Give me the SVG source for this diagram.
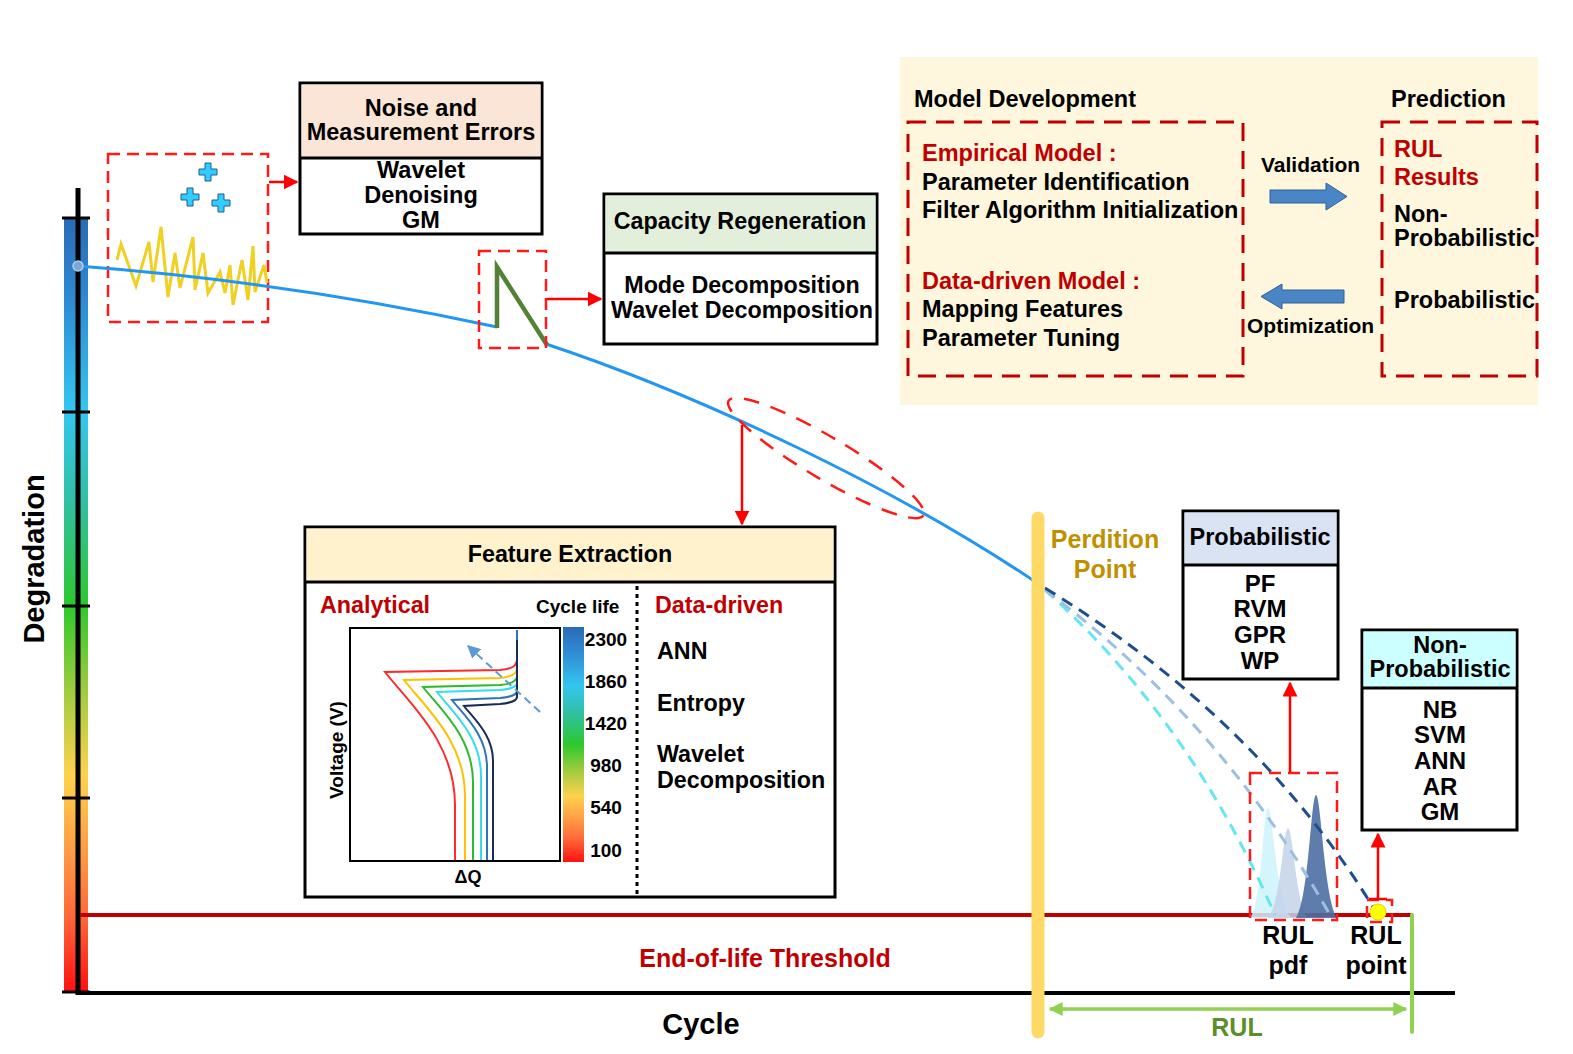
<svg xmlns="http://www.w3.org/2000/svg" width="1573" height="1054" viewBox="0 0 1573 1054">
<style>
.t{font-family:"Liberation Sans",Arial,sans-serif;font-weight:bold;fill:#000}
.c{text-anchor:middle}
.red{fill:#c00000}
.box{fill:#fff;stroke:#000;stroke-width:3}
.hd{stroke:#000;stroke-width:3}
.rd{fill:none;stroke:#ff1a1a;stroke-width:2.5;stroke-dasharray:12 7}
.pd{fill:none;stroke:#c00000;stroke-width:3;stroke-dasharray:18 10}
.arr{stroke:#ff0000;stroke-width:2.5;fill:none;marker-end:url(#ar)}
.pc{fill:none;stroke-width:2}
.dl{fill:none;stroke-width:3;stroke-dasharray:12 8}
</style>
<defs>
<linearGradient id="gbar" x1="0" y1="0" x2="0" y2="1">
<stop offset="0" stop-color="#2a6ab4"/>
<stop offset="0.1" stop-color="#2f88d2"/>
<stop offset="0.25" stop-color="#33c6f0"/>
<stop offset="0.37" stop-color="#30c0a0"/>
<stop offset="0.5" stop-color="#2dc82d"/>
<stop offset="0.62" stop-color="#a8cc40"/>
<stop offset="0.72" stop-color="#ffd24d"/>
<stop offset="0.82" stop-color="#ff9a45"/>
<stop offset="0.9" stop-color="#ff6a3a"/>
<stop offset="1" stop-color="#ff1010"/>
</linearGradient>
<marker id="ar" viewBox="0 0 10 10" refX="9" refY="5" markerWidth="15" markerHeight="15" markerUnits="userSpaceOnUse" orient="auto"><path d="M0,0 L10,5 L0,10 z" fill="#ff0000"/></marker>
<marker id="ag" viewBox="0 0 10 10" refX="9" refY="5" markerWidth="16" markerHeight="14" markerUnits="userSpaceOnUse" orient="auto-start-reverse"><path d="M0,0 L10,5 L0,10 z" fill="#92d050"/></marker>
<marker id="ab" viewBox="0 0 10 10" refX="9" refY="5" markerWidth="13" markerHeight="13" markerUnits="userSpaceOnUse" orient="auto"><path d="M0,0 L10,5 L0,10 z" fill="#5b9bd5"/></marker>
</defs>
<rect width="1573" height="1054" fill="#fff"/>

<g id="axes">
<rect x="64" y="218" width="24" height="774" fill="url(#gbar)"/>
<line x1="78" y1="188" x2="78" y2="995" stroke="#000" stroke-width="5"/>
<g stroke="#000" stroke-width="3">
<line x1="62" y1="218" x2="90" y2="218"/>
<line x1="62" y1="412" x2="90" y2="412"/>
<line x1="62" y1="606" x2="90" y2="606"/>
<line x1="62" y1="798" x2="90" y2="798"/>
<line x1="62" y1="992" x2="90" y2="992"/>
</g>
<line x1="76" y1="993" x2="1455" y2="993" stroke="#000" stroke-width="4"/>
<line x1="80" y1="915" x2="1412" y2="915" stroke="#c00000" stroke-width="4"/>
<text class="t" font-size="29" transform="translate(44,559) rotate(-90)" text-anchor="middle">Degradation</text>
<text class="t c" x="701" y="1034" font-size="29">Cycle</text>
<text class="t c red" x="765" y="967" font-size="25">End-of-life Threshold</text>
</g>

<g id="noise-region">
<rect class="rd" x="108" y="154" width="160" height="168"/>
<polyline points="117,260 121,244 136,286 149,242 153,282 161,227 168,297 175,253 180,288 193,237 195,290 203,253 208,293 220,272 225,293 230,265 233,305 242,260 248,300 253,246 255,292 264,265 267,283" fill="none" stroke="#f0d020" stroke-width="3"/>
<g fill="#33ccff" stroke="#1f5f8a" stroke-width="1">
<path d="M205,163 h6 v6 h6 v6 h-6 v6 h-6 v-6 h-6 v-6 h6 z"/>
<path d="M187,188 h6 v6 h6 v6 h-6 v6 h-6 v-6 h-6 v-6 h6 z"/>
<path d="M218,194 h6 v6 h6 v6 h-6 v6 h-6 v-6 h-6 v-6 h6 z"/>
</g>
</g>

<g id="curve">
<path d="M78,266 Q290,282 497,327" fill="none" stroke="#2196f3" stroke-width="3"/>
<path d="M546,344 C700,395 900,490 1040,585" fill="none" stroke="#2196f3" stroke-width="3"/>
<circle cx="78" cy="266" r="5" fill="#7aa7d6" stroke="#b0cdea" stroke-width="1.5"/>
<polyline points="497,328 497,267 547,345" fill="none" stroke="#548235" stroke-width="4.5" stroke-linejoin="miter"/>
<rect class="rd" x="479" y="251" width="67" height="97"/>
<ellipse cx="826" cy="458" rx="113" ry="21" transform="rotate(30.5 826 458)" fill="none" stroke="#ff1a1a" stroke-width="2.5" stroke-dasharray="16 12"/>
</g>

<g id="pdfs">
<path d="M1250,918 C1262,905 1263,808 1268,808 C1273,808 1276,905 1292,918 Z" fill="#cdf3fa" opacity="0.85"/>
<path d="M1268,918 C1281,905 1283,828 1288,828 C1293,828 1296,905 1308,918 Z" fill="#c3d4e9" opacity="0.85"/>
<path d="M1296,918 C1309,898 1311,795 1316,795 C1321,795 1324,898 1337,918 Z" fill="#4d6ea3" opacity="0.9"/>
</g>

<g id="predictions">
<path class="dl" d="M1045,590 Q1190,720 1275,915" stroke="#66e6f2"/>
<path class="dl" d="M1045,590 Q1220,720 1330,915" stroke="#9dbfe3"/>
<path class="dl" d="M1045,588 Q1260,720 1376,912" stroke="#1f4e8c"/>
<rect class="rd" x="1250" y="773" width="87" height="147"/>
<rect class="rd" x="1367" y="900" width="25" height="22" stroke-dasharray="8 5"/>
<circle cx="1378" cy="912" r="8" fill="#ffff00" stroke="#e6d200" stroke-width="1"/>
<text class="t c" x="1288" y="944" font-size="25">RUL</text>
<text class="t c" x="1288" y="974" font-size="25">pdf</text>
<text class="t c" x="1376" y="944" font-size="25">RUL</text>
<text class="t c" x="1376" y="974" font-size="25">point</text>
</g>

<g id="perdition">
<line x1="1038" y1="518" x2="1038" y2="1032" stroke="#ffd966" stroke-width="13" stroke-linecap="round"/>
<text class="t c" x="1105" y="548" font-size="25" style="fill:#bf9000">Perdition</text>
<text class="t c" x="1105" y="578" font-size="25" style="fill:#bf9000">Point</text>
</g>

<g id="rul">
<line x1="1412" y1="915" x2="1412" y2="1032" stroke="#92d050" stroke-width="4" stroke-linecap="round"/>
<line x1="1050" y1="1009" x2="1406" y2="1009" stroke="#92d050" stroke-width="3.5" marker-start="url(#ag)" marker-end="url(#ag)"/>
<text class="t c" x="1237" y="1036" font-size="25" style="fill:#5b8f2a">RUL</text>
</g>

<g id="connectors">
<line class="arr" x1="269" y1="182" x2="297" y2="182"/>
<line class="arr" x1="547" y1="299" x2="601" y2="299"/>
<line class="arr" x1="742" y1="425" x2="742" y2="524"/>
<line class="arr" x1="1290" y1="772" x2="1290" y2="683"/>
<line class="arr" x1="1378" y1="899" x2="1378" y2="834"/>
<line x1="1369" y1="899" x2="1387" y2="899" stroke="#ff0000" stroke-width="2.5"/>
</g>

<g id="noise-box">
<rect x="300" y="83" width="242" height="151" class="box"/>
<rect x="301.5" y="84.5" width="239" height="73" fill="#fbe5d6"/>
<line x1="300" y1="158" x2="542" y2="158" class="hd"/>
<text class="t c" x="421" y="116" font-size="23.5">Noise and</text>
<text class="t c" x="421" y="140" font-size="23.5">Measurement Errors</text>
<text class="t c" x="421" y="178" font-size="23.5">Wavelet</text>
<text class="t c" x="421" y="203" font-size="23.5">Denoising</text>
<text class="t c" x="421" y="228" font-size="23.5">GM</text>
</g>

<g id="capacity-box">
<rect x="604" y="194" width="273" height="150" class="box"/>
<rect x="605.5" y="195.5" width="270" height="57" fill="#e2efda"/>
<line x1="604" y1="253" x2="877" y2="253" class="hd"/>
<text class="t c" x="740" y="229" font-size="23.3">Capacity Regeneration</text>
<text class="t c" x="742" y="293" font-size="23.3">Mode Decomposition</text>
<text class="t c" x="742" y="318" font-size="23.3">Wavelet Decomposition</text>
</g>

<g id="feature-box">
<rect x="305" y="527" width="530" height="370" class="box"/>
<rect x="306.5" y="528.5" width="527" height="53" fill="#fff2cc"/>
<line x1="305" y1="582" x2="835" y2="582" class="hd"/>
<text class="t c" x="570" y="562" font-size="23.3">Feature Extraction</text>
<line x1="637" y1="586" x2="637" y2="895" stroke="#000" stroke-width="3" stroke-dasharray="4 4"/>
<text class="t" x="320" y="613" font-size="23.3" style="fill:#c00000">Analytical</text>
<text class="t" x="536" y="613" font-size="19">Cycle life</text>
<text class="t" x="655" y="613" font-size="23.3" style="fill:#c00000">Data-driven</text>
<text class="t" x="657" y="659" font-size="23.3">ANN</text>
<text class="t" x="657" y="711" font-size="23.3">Entropy</text>
<text class="t" x="657" y="762" font-size="23.3">Wavelet</text>
<text class="t" x="657" y="788" font-size="23.3">Decomposition</text>
<rect x="350" y="628" width="210" height="233" fill="#fff" stroke="#000" stroke-width="2"/>
<path class="pc" stroke="#ff2a2a" d="M455,860 L455,805 C455,742 409.5,703.5 385,672 L500,670 C512,669 517,666 517,659"/>
<path class="pc" stroke="#ffc000" d="M465,860 L465,796 C465,741 425.4,707.5 404,680 L500,678 C512,677 517,674 517,668"/>
<path class="pc" stroke="#2cbb2c" d="M473,860 L473,782 C473,737 440.5,709.5 423,687 L500,685 C512,684 517,681 517,676"/>
<path class="pc" stroke="#33ddee" d="M481,860 L481,776 C481,736 452.4,711.8 437,692 L500,690 C512,689 517,686 517,683"/>
<path class="pc" stroke="#2e75b6" d="M487,860 L487,767 C487,735 464.3,715.8 452,700 L500,698 C512,697 517,694 517,691"/>
<path class="pc" stroke="#1a2b55" d="M493,860 L493,761 C493,735 474,719 464,706 L500,704 C512,703 517,700 517,697 L517,640"/>
<line x1="517" y1="640" x2="517" y2="630" stroke="#2e75b6" stroke-width="2"/>
<line x1="540" y1="712" x2="468" y2="646" stroke="#5b9bd5" stroke-width="2" stroke-dasharray="8 5" marker-end="url(#ab)"/>
<rect x="563" y="627" width="21" height="235" fill="url(#gbar)"/>
<text class="t c" x="606" y="646" font-size="19">2300</text>
<text class="t c" x="606" y="688" font-size="19">1860</text>
<text class="t c" x="606" y="730" font-size="19">1420</text>
<text class="t c" x="606" y="772" font-size="19">980</text>
<text class="t c" x="606" y="814" font-size="19">540</text>
<text class="t c" x="606" y="857" font-size="19">100</text>
<text class="t" font-size="19" transform="translate(343,750) rotate(-90)" text-anchor="middle">Voltage (V)</text>
<text class="t c" x="468" y="883" font-size="18">ΔQ</text>
</g>

<g id="model-panel">
<rect x="900" y="57" width="638" height="348" fill="#fef7de"/>
<text class="t" x="914" y="107" font-size="23.5">Model Development</text>
<text class="t" x="1391" y="107" font-size="23.5">Prediction</text>
<rect class="pd" x="908" y="122" width="335" height="254"/>
<rect class="pd" x="1382" y="122" width="155" height="254"/>
<text class="t" x="922" y="161" font-size="23.5" style="fill:#c00000">Empirical Model :</text>
<text class="t" x="922" y="190" font-size="23.5">Parameter Identification</text>
<text class="t" x="922" y="218" font-size="23.5">Filter Algorithm Initialization</text>
<text class="t" x="922" y="289" font-size="23.5" style="fill:#c00000">Data-driven Model :</text>
<text class="t" x="922" y="317" font-size="23.5">Mapping Features</text>
<text class="t" x="922" y="346" font-size="23.5">Parameter Tuning</text>
<text class="t" x="1394" y="157" font-size="23.5" style="fill:#c00000">RUL</text>
<text class="t" x="1394" y="185" font-size="23.5" style="fill:#c00000">Results</text>
<text class="t" x="1394" y="222" font-size="23.5">Non-</text>
<text class="t" x="1394" y="246" font-size="23.5">Probabilistic</text>
<text class="t" x="1394" y="308" font-size="23.5">Probabilistic</text>
<text class="t" x="1261" y="172" font-size="21">Validation</text>
<text class="t" x="1247" y="333" font-size="21">Optimization</text>
<path d="M1270,190 H1326 V183 L1347,196.5 L1326,210 V203 H1270 Z" fill="#4a86c5" stroke="#2e5f97" stroke-width="1"/>
<path d="M1344,290 H1282 V284 L1261,296.5 L1282,309 V303 H1344 Z" fill="#4a86c5" stroke="#2e5f97" stroke-width="1"/>
</g>

<g id="prob-box">
<rect x="1183" y="511" width="155" height="168" class="box"/>
<rect x="1184.5" y="512.5" width="152" height="52" fill="#dae3f3"/>
<line x1="1183" y1="565" x2="1338" y2="565" class="hd"/>
<text class="t c" x="1260" y="545" font-size="23.5">Probabilistic</text>
<text class="t c" x="1260" y="592" font-size="24">PF</text>
<text class="t c" x="1260" y="617" font-size="24">RVM</text>
<text class="t c" x="1260" y="643" font-size="24">GPR</text>
<text class="t c" x="1260" y="669" font-size="24">WP</text>
</g>

<g id="nonprob-box">
<rect x="1362" y="630" width="155" height="200" class="box"/>
<rect x="1363.5" y="631.5" width="152" height="56" fill="#ccffff"/>
<line x1="1362" y1="688" x2="1517" y2="688" class="hd"/>
<text class="t c" x="1440" y="653" font-size="23.5">Non-</text>
<text class="t c" x="1440" y="677" font-size="23.5">Probabilistic</text>
<text class="t c" x="1440" y="718" font-size="24">NB</text>
<text class="t c" x="1440" y="743" font-size="24">SVM</text>
<text class="t c" x="1440" y="769" font-size="24">ANN</text>
<text class="t c" x="1440" y="795" font-size="24">AR</text>
<text class="t c" x="1440" y="820" font-size="24">GM</text>
</g>
</svg>
